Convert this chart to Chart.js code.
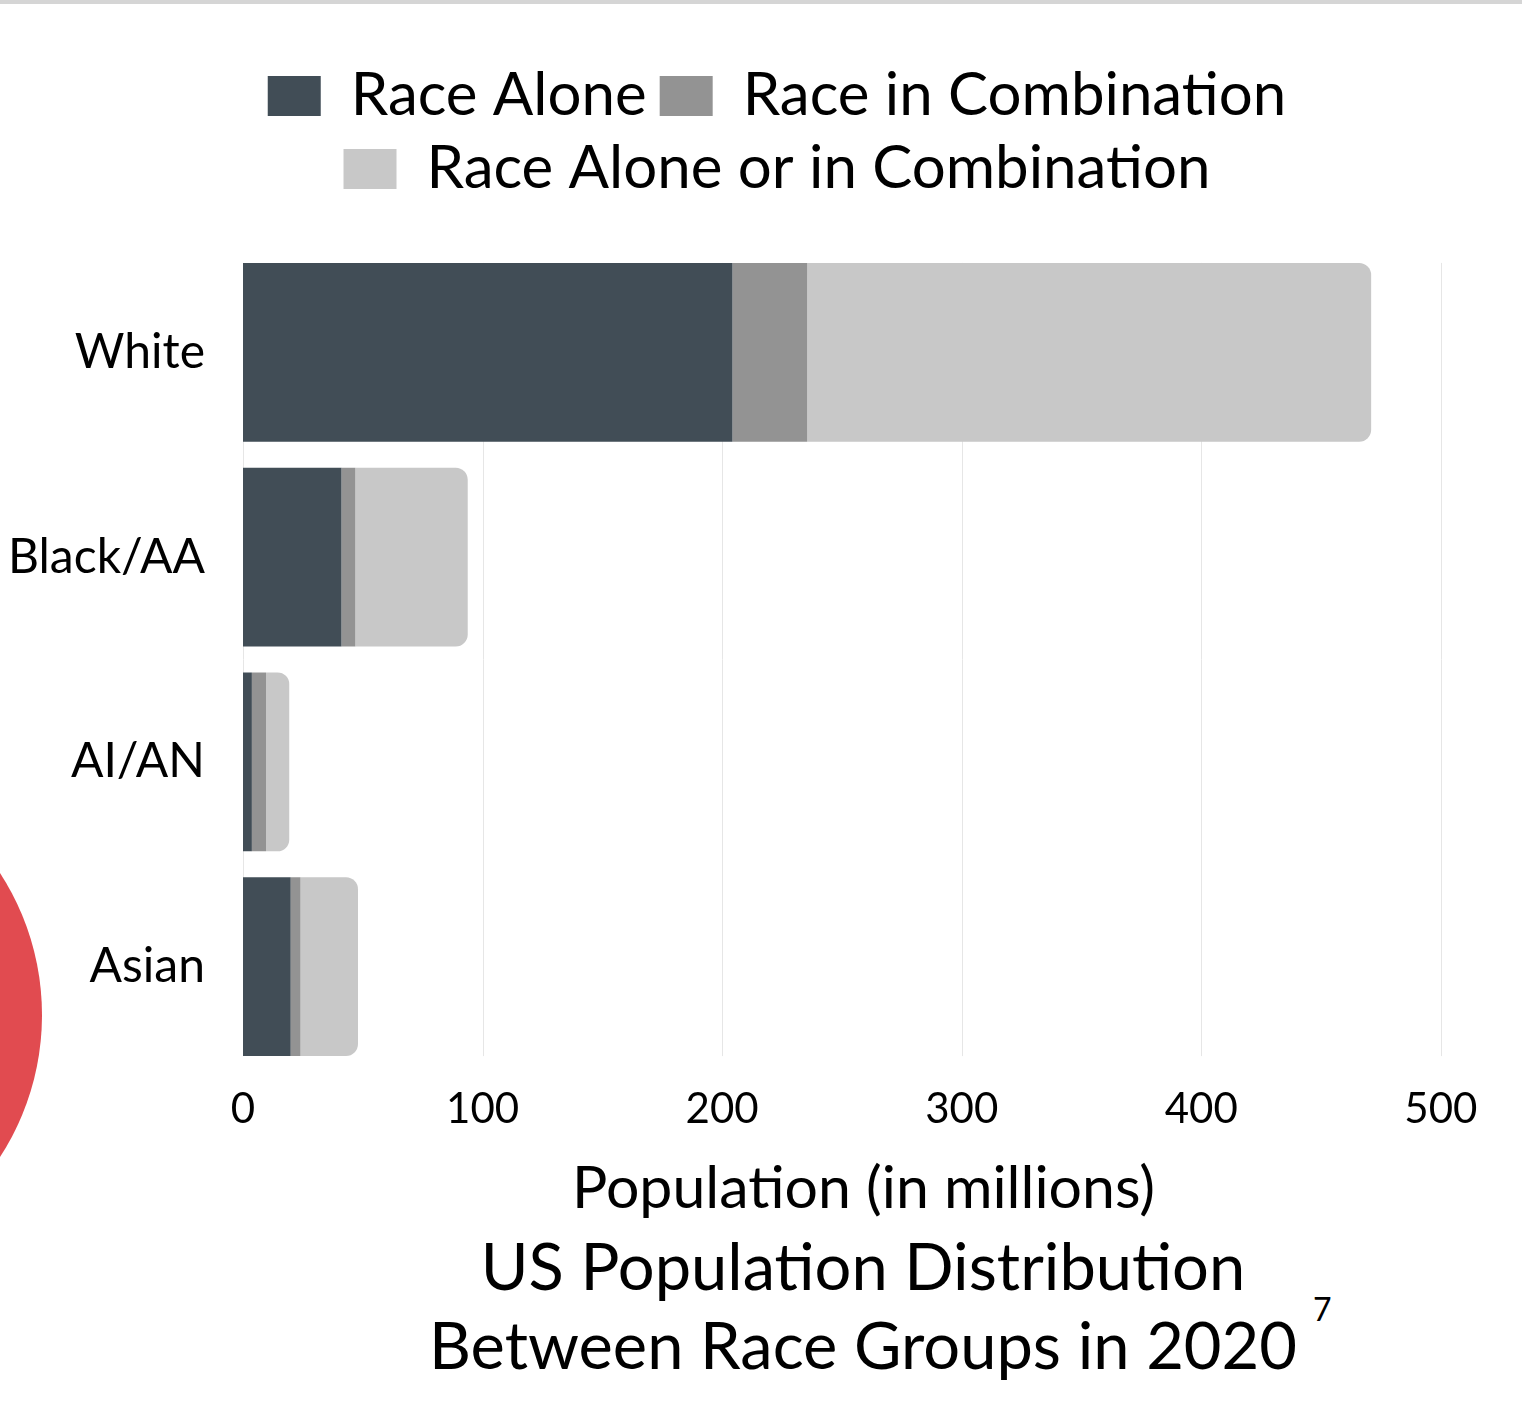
<!DOCTYPE html>
<html>
<head>
<meta charset="utf-8">
<title>US Population Distribution Between Race Groups in 2020</title>
<script src="https://cdn.jsdelivr.net/npm/chart.js@4.4.1/dist/chart.umd.min.js"></script>
<style>
  html, body { margin: 0; padding: 0; background: #fff; }
  body { width: 1522px; height: 1418px; position: relative; overflow: hidden; font-family: Lato, "Noto Sans", sans-serif; }
  .topline { position: absolute; left: 0; top: 0; width: 1522px; height: 4px; background: #d5d5d5; z-index: 2; }
  .dot { position: absolute; left: -480px; top: 754px; width: 522px; height: 522px; border-radius: 50%; background: #e14b50; }
  .chart-box { position: absolute; left: 0; top: 0; width: 1522px; height: 1224px; }
  .caption { position: absolute; left: 204px; top: 1226px; width: 1318px; margin: 0; text-align: center;
             font-size: 65px; line-height: 79px; font-weight: 400; color: #000; }
  .caption .yr { position: relative; }
  .caption sup { position: absolute; left: 100%; top: -12px; margin-left: 16px; font-size: 32px; line-height: 1; }
</style>
</head>
<body>
<div class="topline"></div>
<div class="dot"></div>
<div class="chart-box"><canvas id="chart" width="1522" height="1224"></canvas></div>
<h2 class="caption">US Population Distribution<br>Between Race Groups in <span class="yr">2020<sup>7</sup></span></h2>

<script>
// Population by race group, 2020 (millions)
const categories = ['White', 'Black/AA', 'AI/AN', 'Asian'];
const raceAlone = [204.3, 41.1, 3.7, 19.9];
const raceInCombination = [31.2, 5.8, 5.9, 4.1];
const raceAloneOrInCombination = [235.4, 46.9, 9.7, 24.0];
const seriesNames = ['Race Alone', 'Race in Combination', 'Race Alone or in Combination'];
const xTickStep = 100;
const xAxisTitle = 'Population (in millions)';

const seriesColors = ['#414d56', '#939393', '#c8c8c8'];

Chart.defaults.font.family = 'Lato, "Noto Sans", sans-serif';
Chart.defaults.color = '#000';

// Legend: extra room below it, and centred over the plot rather than the whole canvas
const legendPlacement = {
  id: 'legendPlacement',
  beforeLayout(chart) {
    const legend = chart.legend;
    if (legend && !legend._gapPatched) {
      const fit = legend.fit;
      legend.fit = function () { fit.call(this); this.height += 41; };
      legend._gapPatched = true;
    }
  },
  afterLayout(chart) {
    if (chart.legend) chart.legend.left += 70;
  }
};

// Vertical grid lines spanning only the band occupied by the bars
const barBandGrid = {
  id: 'barBandGrid',
  beforeDatasetsDraw(chart) {
    const { ctx } = chart;
    const xs = chart.scales.x;
    const bars = chart.getDatasetMeta(0).data;
    if (!bars.length) return;
    const first = bars[0].getProps(['y', 'height'], true);
    const last = bars[bars.length - 1].getProps(['y', 'height'], true);
    const top = first.y - first.height / 2;
    const bottom = last.y + last.height / 2;
    ctx.save();
    ctx.strokeStyle = '#e6e6e6';
    ctx.lineWidth = 1;
    xs.ticks.forEach(t => {
      const px = Math.round(xs.getPixelForValue(t.value)) + 0.5;
      ctx.beginPath();
      ctx.moveTo(px, top);
      ctx.lineTo(px, bottom);
      ctx.stroke();
    });
    ctx.restore();
  }
};

new Chart(document.getElementById('chart'), {
  type: 'bar',
  data: {
    labels: categories,
    datasets: [
      { label: seriesNames[0], data: raceAlone, backgroundColor: seriesColors[0] },
      { label: seriesNames[1], data: raceInCombination, backgroundColor: seriesColors[1] },
      { label: seriesNames[2], data: raceAloneOrInCombination, backgroundColor: seriesColors[2], borderRadius: 12 }
    ]
  },
  options: {
    indexAxis: 'y',
    responsive: false,
    animation: false,
    datasets: { bar: { barPercentage: 0.874, categoryPercentage: 1 } },
    layout: { padding: { left: 0, right: 38, top: 53, bottom: 0 } },
    plugins: {
      legend: {
        position: 'top',
        labels: { boxWidth: 53, boxHeight: 40, padding: 13, font: { size: 60 }, color: '#000' }
      },
      tooltip: { enabled: false },
      title: { display: false }
    },
    scales: {
      x: {
        stacked: true,
        min: 0,
        max: 518,
        grid: { display: false, drawTicks: false },
        border: { display: false },
        ticks: { stepSize: xTickStep, includeBounds: false, padding: 15, font: { size: 42 }, color: '#000' },
        title: { display: true, text: xAxisTitle, font: { size: 59 }, color: '#000', padding: { top: 3.8, bottom: 0 } }
      },
      y: {
        stacked: true,
        grid: { display: false, drawTicks: false },
        border: { display: false },
        ticks: { padding: 38, font: { size: 48 }, color: '#000' },
        afterFit(scale) { scale.width = 243; }
      }
    }
  },
  plugins: [legendPlacement, barBandGrid]
});
</script>
</body>
</html>
